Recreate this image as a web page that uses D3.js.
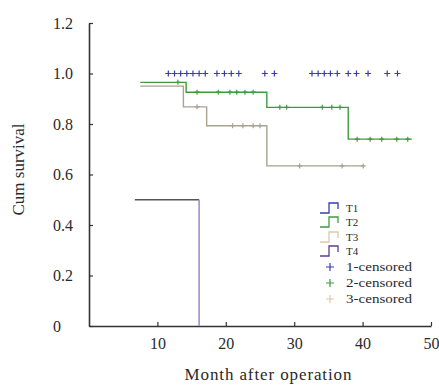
<!DOCTYPE html>
<html>
<head>
<meta charset="utf-8">
<script src="https://cdn.jsdelivr.net/npm/d3@7"></script>
<style>
  body { margin: 0; background: #fff; }
  svg { display: block; }
  svg text { font-family: "Liberation Serif", "DejaVu Serif", serif; }
</style>
</head>
<body>
<svg id="chart" width="439" height="386"></svg>
<script>
// survival steps per group: [month, cumulative survival]
const t2Steps = [[7.5, 0.965], [14.2, 0.926], [26.0, 0.866], [37.9, 0.74], [47.2, 0.74]];
const t3Steps = [[7.5, 0.95], [13.8, 0.868], [17.2, 0.793], [26.0, 0.634], [40.1, 0.634]];
const t4Steps = [[6.7, 0.5], [16.1, 0]];

// censored cases (month)
const t1Censored = [11.6, 12.5, 13.4, 14.3, 15.2, 16.1, 17.0, 18.7, 19.8, 20.8, 21.9,
  25.7, 27.1, 32.6, 33.5, 34.4, 35.3, 36.3, 37.9, 39.1, 40.8, 43.6, 45.1];
const t2Censored = [13.0, 15.8, 18.9, 20.6, 21.6, 22.8, 24.0, 27.9, 28.9, 34.1, 35.5, 36.7,
  39.2, 41.1, 42.8, 45.0, 46.6];
const t3Censored = [15.8, 21.0, 22.5, 24.0, 25.0, 30.8, 37.0, 40.1];

const yTicks = [0, 0.2, 0.4, 0.6, 0.8, 1.0, 1.2];
const xTicks = [10, 20, 30, 40, 50];
const legendNames = ['T1', 'T2', 'T3', 'T4', '1-censored', '2-censored', '3-censored'];
const colors = { t1: '#3a3ab8', t2: '#3f9a3f', t3: '#a8a290', t3Legend: '#e0c8a8', t4: '#5c3f8f' };

const svg = d3.select('#chart');
const x = d3.scaleLinear().domain([0, 50]).range([89, 431]);
const y = d3.scaleLinear().domain([0, 1.2]).range([326, 23]);

// axes
const yAxis = svg.append('g')
    .attr('transform', `translate(${x(0)},0)`)
    .call(d3.axisLeft(y).tickValues(yTicks).tickSize(-4).tickSizeOuter(0)
        .tickFormat(d => d === 0 ? '0' : d.toFixed(1)))
    .attr('font-family', 'Liberation Serif');
yAxis.selectAll('text')
    .attr('x', -36).attr('text-anchor', 'start')
    .attr('font-size', 16).attr('fill', '#2a2a2a');

const xAxis = svg.append('g')
    .attr('transform', `translate(0,${y(0)})`)
    .call(d3.axisBottom(x).tickValues(xTicks).tickSize(-4).tickSizeOuter(0))
    .attr('font-family', 'Liberation Serif');
xAxis.selectAll('text')
    .attr('y', 12)
    .attr('font-size', 16).attr('fill', '#2a2a2a');

svg.selectAll('.domain').attr('stroke', '#333').attr('stroke-width', 1.6);
svg.selectAll('.tick line').attr('stroke', '#333').attr('stroke-width', 1.2);

// axis titles
svg.append('text')
    .attr('transform', `translate(24,${y(0.62)}) rotate(-90)`)
    .attr('text-anchor', 'middle')
    .attr('font-size', 17).attr('fill', '#2a2a2a')
    .text('Cum survival');

svg.append('text')
    .attr('x', 268).attr('y', 380)
    .attr('text-anchor', 'middle')
    .attr('font-size', 17).attr('fill', '#2a2a2a')
    .attr('textLength', 167)
    .text('Month after operation');

// curves
const stepLine = d3.line()
    .x(d => x(d[0]))
    .y(d => y(d[1]))
    .curve(d3.curveStepAfter);

svg.append('path').datum(t3Steps)
    .attr('d', stepLine).attr('fill', 'none')
    .attr('stroke', colors.t3).attr('stroke-width', 1.4);
svg.append('path').datum(t2Steps)
    .attr('d', stepLine).attr('fill', 'none')
    .attr('stroke', colors.t2).attr('stroke-width', 1.4);

// T4: flat at 0.5 then drop to 0
svg.append('line')
    .attr('x1', x(t4Steps[0][0])).attr('x2', x(t4Steps[1][0]))
    .attr('y1', y(t4Steps[0][1])).attr('y2', y(t4Steps[0][1]))
    .attr('stroke', '#555').attr('stroke-width', 1.4);
svg.append('line')
    .attr('x1', x(t4Steps[1][0])).attr('x2', x(t4Steps[1][0]))
    .attr('y1', y(t4Steps[0][1])).attr('y2', y(t4Steps[1][1]))
    .attr('stroke', '#a48fcb').attr('stroke-width', 1.6);

// censored marks
function survivalAt(steps, t) {
    let s = steps[0][1];
    steps.forEach(function (d) { if (d[0] <= t) s = d[1]; });
    return s;
}

function plus(g, cx, cy, r, color) {
    g.append('path')
        .attr('d', `M${cx - r},${cy}H${cx + r}M${cx},${cy - r}V${cy + r}`)
        .attr('stroke', color).attr('stroke-width', 1.2).attr('fill', 'none');
}

const marks = svg.append('g');
t1Censored.forEach(t => plus(marks, x(t), y(1.0), 3, colors.t1));
t2Censored.forEach(t => plus(marks, x(t), y(survivalAt(t2Steps, t)), 2.5, colors.t2));
t3Censored.forEach(t => plus(marks, x(t), y(survivalAt(t3Steps, t)), 2.5, colors.t3));

// legend
const legendY = [208, 222, 237, 251, 267, 283, 299];
const legendColors = [colors.t1, colors.t2, colors.t3Legend, colors.t4, colors.t1, colors.t2, colors.t3Legend];
const legend = svg.append('g');
legendNames.forEach(function (name, i) {
    const cy = legendY[i];
    if (i < 4) {
        legend.append('path')
            .attr('d', `M320,${cy + 5}H329V${cy - 5}H338V${cy + 1}`)
            .attr('fill', 'none').attr('stroke', legendColors[i]).attr('stroke-width', 1.3);
    } else {
        plus(legend, 330, cy, 4, legendColors[i]);
    }
    const label = legend.append('text')
        .attr('x', 346).attr('y', cy + 4)
        .attr('font-size', i < 4 ? 11 : 13).attr('fill', '#2a2a2a')
        .text(name);
    if (i >= 4) label.attr('textLength', 66).attr('lengthAdjust', 'spacingAndGlyphs');
});
</script>
</body>
</html>
